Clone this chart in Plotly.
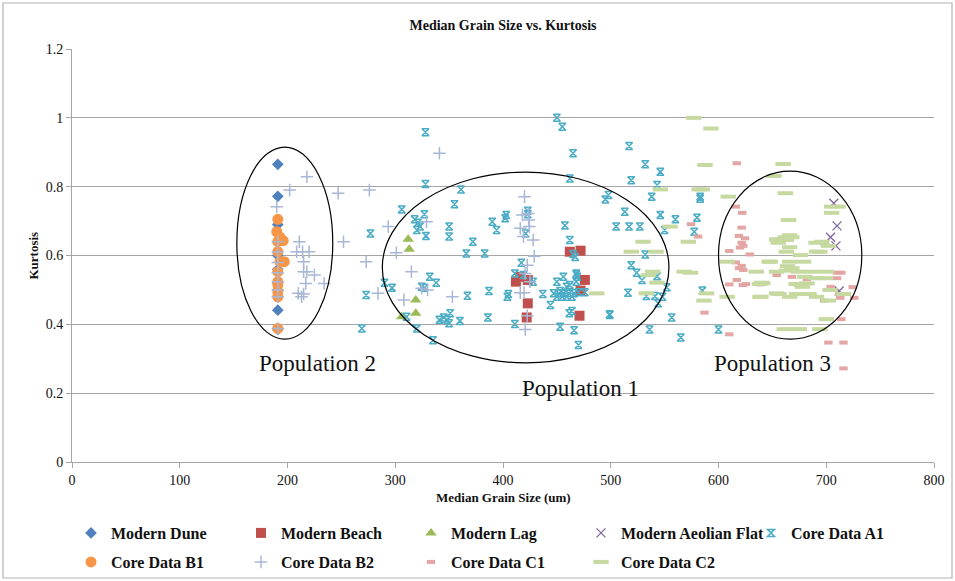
import plotly.graph_objects as go

# ---------------- data ----------------
dune_x = [191, 191, 191, 191, 191, 191, 191, 191, 191, 191, 191]
dune_y = [0.865, 0.772, 0.69, 0.64, 0.60, 0.56, 0.52, 0.50, 0.48, 0.441, 0.385]

beach_x = [462, 472, 416, 412, 423, 476, 472, 423, 422, 471]
beach_y = [0.611, 0.614, 0.538, 0.524, 0.529, 0.529, 0.498, 0.461, 0.42, 0.425]

lag_x = [312, 313, 319, 319, 306]
lag_y = [0.647, 0.618, 0.471, 0.432, 0.422]

aeolian_x = [707, 710, 704, 709, 712]
aeolian_y = [0.752, 0.686, 0.653, 0.628, 0.497]

a1_x = [277, 273, 269, 328, 328, 361, 355, 306, 327, 318, 321, 323, 320, 328.5,
        350, 350, 372, 366, 383, 390, 394, 402, 403, 423, 423, 421, 457.5, 462, 465,
        450, 455, 495, 498, 505, 462, 465, 467, 417, 411, 419, 428, 468, 469, 456, 450,
        462, 459, 447, 452, 456, 461, 466, 450, 455, 459, 464, 453, 470, 476, 437, 444,
        405, 404, 387, 367, 332, 338, 324.5, 327, 290, 297, 341, 345, 348, 350, 351,
        360, 386, 411, 461.5, 464, 453, 466, 470, 499, 320, 335, 310.5, 517, 532, 546,
        519, 543, 538, 583, 583, 513, 546, 560, 580, 517, 527, 550, 577.5, 532, 519,
        524, 529, 543, 552, 516, 533, 541, 544, 548, 499, 556.5, 585, 536, 565, 600,
        468, 468]
a1_y = [0.664, 0.485, 0.388, 0.958, 0.808, 0.792, 0.749, 0.734, 0.72, 0.705, 0.695,
        0.684, 0.674, 0.657, 0.684, 0.655, 0.64, 0.606, 0.606, 0.698, 0.674, 0.708,
        0.718, 0.73, 0.72, 0.664, 0.687, 0.824, 0.897, 1.0, 0.974, 0.763, 0.776, 0.684,
        0.645, 0.604, 0.596, 0.579, 0.548, 0.543, 0.524, 0.548, 0.538, 0.538, 0.524,
        0.514, 0.509, 0.49, 0.49, 0.49, 0.49, 0.49, 0.48, 0.48, 0.48, 0.48, 0.497,
        0.493, 0.493, 0.488, 0.456, 0.488, 0.48, 0.497, 0.483, 0.538, 0.521, 0.509,
        0.506, 0.521, 0.506, 0.413, 0.42, 0.413, 0.403, 0.432, 0.41, 0.42, 0.401,
        0.432, 0.439, 0.393, 0.383, 0.34, 0.427, 0.388, 0.354, 0.422, 0.918, 0.865,
        0.843, 0.819, 0.805, 0.771, 0.771, 0.765, 0.727, 0.718, 0.705, 0.71, 0.684,
        0.684, 0.674, 0.669, 0.603, 0.572, 0.55, 0.529, 0.54, 0.508, 0.492, 0.482,
        0.482, 0.461, 0.48, 0.429, 0.42, 0.498, 0.385, 0.362, 0.385, 0.545, 0.524]

b1_x = [191, 190, 193, 196, 191, 191, 193, 197, 191, 191, 191, 191, 191, 191]
b1_y = [0.705, 0.669, 0.653, 0.643, 0.64, 0.611, 0.582, 0.582, 0.553, 0.524, 0.514,
        0.495, 0.48, 0.388]

b2_x = [218, 202, 247, 276, 190, 191, 211, 252, 208.5, 214, 220, 215, 273, 215, 218,
        225, 217, 234, 191, 210, 215, 213, 284, 191, 191, 191, 191, 191, 191,
        341, 293.5, 329, 301, 315, 308, 324.5, 330, 353, 420, 418, 423.5, 424, 424.5,
        416, 419, 428, 429, 422.5, 420.5, 425, 416, 419.5, 422.5, 420.7]
b2_y = [0.829, 0.790, 0.781, 0.790, 0.742, 0.64, 0.64, 0.64, 0.611, 0.611, 0.611,
        0.582, 0.582, 0.553, 0.553, 0.543, 0.519, 0.519, 0.524, 0.49, 0.488, 0.48,
        0.49, 0.61, 0.58, 0.55, 0.50, 0.48, 0.388, 0.897, 0.684, 0.698, 0.608, 0.553,
        0.471, 0.505, 0.50, 0.48, 0.771, 0.718, 0.722, 0.703, 0.684, 0.679, 0.655,
        0.645, 0.598, 0.572, 0.548, 0.524, 0.492, 0.492, 0.425, 0.385]

c1_x = [617, 616, 622, 574.5, 621.5, 581, 619, 624.6, 621.5, 623, 620, 610, 629, 616,
        621.5, 619, 623, 610, 617, 622.5, 625.5, 587, 610, 638.5, 654, 668, 682, 710,
        714, 710, 704, 724.5, 712, 713, 726, 698, 714, 702, 716, 716, 698]
c1_y = [0.868, 0.742, 0.724, 0.691, 0.681, 0.655, 0.657, 0.650, 0.637, 0.628, 0.623,
        0.613, 0.603, 0.58, 0.57, 0.563, 0.558, 0.516, 0.529, 0.514, 0.517, 0.434,
        0.371, 0.516, 0.543, 0.538, 0.531, 0.55, 0.55, 0.534, 0.509, 0.508, 0.488,
        0.477, 0.477, 0.469, 0.415, 0.347, 0.347, 0.272, 0.635]

c2_x = [577, 593, 587.5, 582, 585, 546, 609, 555, 572, 530, 519, 542, 608, 539, 535,
        568, 574, 543, 635, 487, 533, 589, 608, 586.5, 638, 651.5, 654, 655.5, 647,
        640, 639.4, 654, 660, 662, 705, 711, 705, 665, 666, 662, 668, 658, 663, 655.5,
        690.5, 696, 702, 666, 663, 691, 694, 676, 648, 666, 679, 664, 668, 663, 674,
        686.5, 700, 654, 680, 689.6, 699, 672, 677, 682, 678, 641, 656, 672.5, 684,
        666, 691, 703.5, 716, 638.5, 702, 700, 661, 675, 694]
c2_y = [1.0, 0.969, 0.863, 0.792, 0.792, 0.792, 0.771, 0.684, 0.64, 0.64, 0.611,
        0.611, 0.582, 0.553, 0.543, 0.553, 0.55, 0.521, 0.553, 0.49, 0.49, 0.49, 0.48,
        0.469, 0.517, 0.831, 0.647, 0.64, 0.582, 0.521, 0.48, 0.49, 0.866, 0.781,
        0.742, 0.742, 0.724, 0.703, 0.659, 0.653, 0.653, 0.647, 0.645, 0.637, 0.637,
        0.64, 0.628, 0.624, 0.611, 0.611, 0.611, 0.601, 0.582, 0.582, 0.582, 0.569,
        0.563, 0.556, 0.553, 0.553, 0.553, 0.553, 0.538, 0.534, 0.534, 0.517, 0.514,
        0.519, 0.509, 0.519, 0.488, 0.488, 0.488, 0.48, 0.48, 0.5, 0.488, 0.48, 0.469,
        0.415, 0.386, 0.386, 0.386]

x_ticks = [0, 100, 200, 300, 400, 500, 600, 700, 800]
y_ticks = [0, 0.2, 0.4, 0.6, 0.8, 1, 1.2]

# populations: (label, x0, x1, y0, y1, label_x, label_y)
populations = [
    ("Population 2", 153, 242, 0.357, 0.915, 228, 0.285),
    ("Population 1", 288, 554, 0.288, 0.8425, 471.5, 0.215),
    ("Population 3", 600, 733, 0.357, 0.845, 650, 0.285),
]

SERIF = "Liberation Serif"

fig = go.Figure()

def add(name, xs, ys, marker, legend):
    fig.add_trace(go.Scatter(x=xs, y=ys, mode="markers", name=name,
                             marker=marker, legend=legend))

add("Modern Dune", dune_x, dune_y,
    dict(symbol="diamond", size=9, color="#4F81BD"), "legend")
add("Modern Beach", beach_x, beach_y,
    dict(symbol="square", size=10, color="#C0504D"), "legend")
add("Modern Lag", lag_x, lag_y,
    dict(symbol="triangle-up", size=10, color="#9BBB59"), "legend")
add("Modern Aeolian Flat", aeolian_x, aeolian_y,
    dict(symbol="x-thin-open", size=9, color="#8064A2",
         line=dict(width=1.3, color="#8064A2")), "legend")
add("Core Data A1", a1_x, a1_y,
    dict(symbol="hourglass-open", size=7, color="#4BACC6",
         line=dict(width=1.5, color="#4BACC6")), "legend")
add("Core Data B1", b1_x, b1_y,
    dict(symbol="circle", size=11, color="#F79646"), "legend2")
add("Core Data B2", b2_x, b2_y,
    dict(symbol="cross-thin-open", size=9, color="#A9B7D6",
         line=dict(width=1.5, color="#A9B7D6")), "legend2")
add("Core Data C1", c1_x, c1_y,
    dict(symbol="line-ew-open", size=6, color="#E3A6A4",
         line=dict(width=4, color="#E3A6A4")), "legend2")
add("Core Data C2", c2_x, c2_y,
    dict(symbol="line-ew-open", size=11, color="#C6D9A0",
         line=dict(width=4, color="#C6D9A0")), "legend2")

shapes = []
annotations = []
for label, x0, x1, y0, y1, lx, ly in populations:
    shapes.append(dict(type="circle", xref="x", yref="y", x0=x0, x1=x1, y0=y0, y1=y1,
                       line=dict(color="black", width=1.2), layer="above"))
    annotations.append(dict(text=label, x=lx, y=ly, xref="x", yref="y",
                            showarrow=False, font=dict(family=SERIF, size=23, color="#111")))

# outer chart border
shapes.append(dict(type="rect", xref="paper", yref="paper",
                   x0=(3 - 72) / 862, x1=(952 - 72) / 862,
                   y0=(462 - 578) / 413, y1=(462 - 3) / 413,
                   line=dict(color="#B3B3B3", width=1.2)))

annotations.append(dict(text="<b>Median Grain Size (um)</b>", x=0.5, y=(462 - 497) / 413,
                        xref="paper", yref="paper", showarrow=False, yanchor="middle",
                        font=dict(family=SERIF, size=13, color="#111")))
annotations.append(dict(text="<b>Kurtosis</b>", x=(33 - 72) / 862, y=0.5, xref="paper",
                        yref="paper", showarrow=False, textangle=-90, xanchor="center",
                        font=dict(family=SERIF, size=13, color="#111")))

legend_common = dict(orientation="h", xanchor="left", yanchor="middle",
                     entrywidth=125, entrywidthmode="pixels",
                     font=dict(family=SERIF, size=16, color="#111", weight="bold"),
                     bgcolor="rgba(0,0,0,0)", itemclick=False)

fig.update_layout(
    width=955, height=581,
    margin=dict(l=72, r=21, t=49, b=119, autoexpand=False),
    paper_bgcolor="white", plot_bgcolor="white",
    title=dict(text="<b>Median Grain Size vs. Kurtosis</b>", x=0.5, xref="paper",
               y=1 - 25 / 581, yanchor="middle", xanchor="center",
               font=dict(family=SERIF, size=14, color="#111")),
    xaxis=dict(range=[0, 800], tickvals=x_ticks, showgrid=False, zeroline=False,
               showline=True, linecolor="#A6A6A6", linewidth=1, ticks="outside",
               ticklen=5, tickcolor="#A6A6A6",
               tickfont=dict(family=SERIF, size=14, color="#111")),
    yaxis=dict(range=[0, 1.2], tickvals=y_ticks, showgrid=True, gridcolor="#A6A6A6",
               gridwidth=1, zeroline=False, showline=True, linecolor="#A6A6A6",
               ticks="outside", ticklen=5, tickcolor="#A6A6A6",
               tickfont=dict(family=SERIF, size=14, color="#111")),
    legend=dict(x=(71 - 72) / 862, y=(462 - 533) / 413, **legend_common),
    legend2=dict(x=(71 - 72) / 862, y=(462 - 562) / 413, **legend_common),
    shapes=shapes, annotations=annotations,
    showlegend=True,
)

fig.write_html("out.html")
